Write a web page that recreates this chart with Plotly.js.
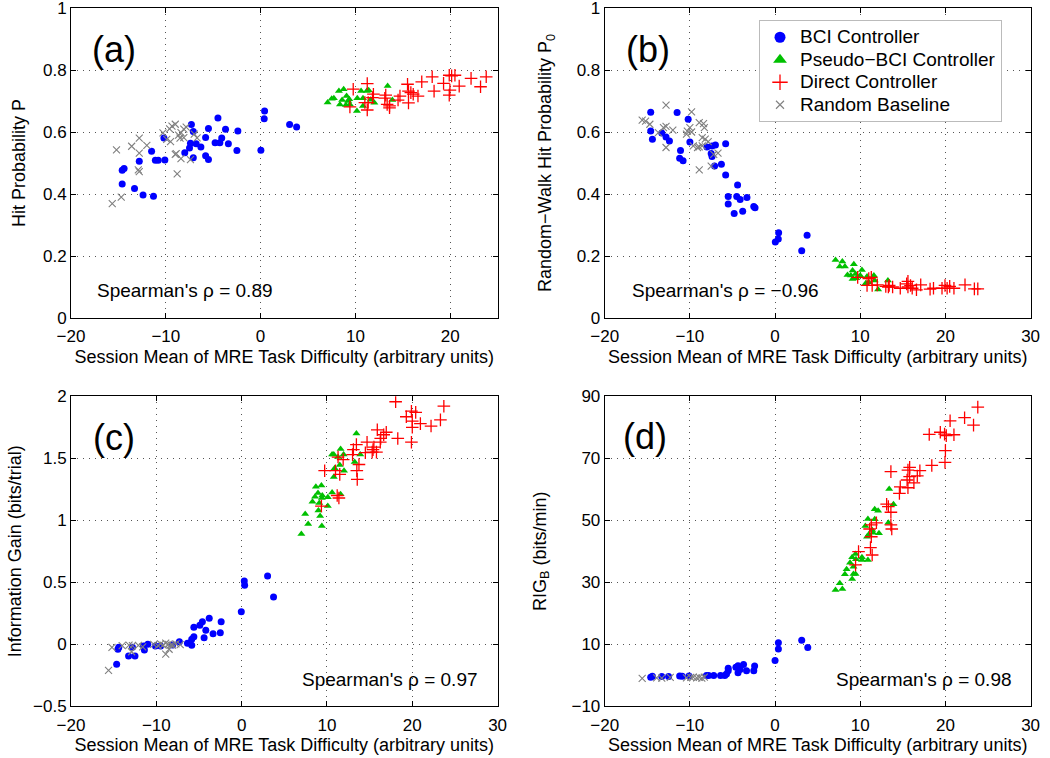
<!DOCTYPE html>
<html><head><meta charset="utf-8">
<script src="https://cdn.plot.ly/plotly-3.0.1.min.js"></script>
<style>html,body{margin:0;padding:0;background:#fff}#chart{width:1050px;height:758px}</style>
</head><body><div id="chart"></div>
<script>
// ---------- Panel (a): Hit Probability P ----------
var bciA_x = [0.42,0.38,0.03,3.06,3.8,-4.5,-7.3,-7.1,-5.5,-3.7,-2.4,-4.1,-4.8,-4.3,-3.4,-2.5,-5.8,-6.8,-7.4,-6.3,-7.5,-8.0,-7.1,-5.8,-5.5,-10.2,-11.5,-11.1,-10.8,-10.1,-12.8,-14.4,-14.6,-14.6,-13.3,-12.4,-11.3];
var bciA_y = [0.668,0.643,0.541,0.624,0.616,0.645,0.624,0.602,0.611,0.609,0.603,0.581,0.565,0.565,0.562,0.54,0.582,0.562,0.564,0.552,0.548,0.533,0.517,0.523,0.511,0.581,0.538,0.509,0.509,0.51,0.506,0.482,0.477,0.432,0.418,0.397,0.393];
var pbciA_x = [7.07,7.5,7.73,8.26,8.76,8.37,8.6,9.07,9.24,9.0,9.42,9.35,10.16,10.2,10.6,10.8,11.2,11.4,11.6,12.0,10.8,13.4,13.9];
var pbciA_y = [0.695,0.707,0.709,0.732,0.738,0.689,0.703,0.716,0.7,0.687,0.689,0.706,0.668,0.709,0.732,0.709,0.732,0.735,0.704,0.694,0.684,0.748,0.703];
var dirA_x = [9.77,9.42,11.25,11.25,11.0,11.35,11.9,11.8,13.2,13.1,13.6,13.6,13.35,14.5,14.7,15.5,15.6,15.85,16.1,15.6,16.6,17.0,18.1,18.3,19.3,19.9,20.15,20.5,19.97,19.9,20.95,22.2,23.2,23.8];
var dirA_y = [0.738,0.681,0.756,0.671,0.695,0.695,0.722,0.711,0.719,0.709,0.684,0.678,0.689,0.703,0.716,0.754,0.732,0.727,0.722,0.694,0.716,0.762,0.778,0.732,0.757,0.783,0.781,0.783,0.735,0.719,0.748,0.773,0.746,0.778];
var randA_x = [-15.65,-14.7,-15.2,-13.6,-12.8,-12.8,-12.0,-12.9,-12.8,-8.8,-10.3,-9.9,-9.5,-9.35,-9.0,-8.4,-8.1,-8.5,-8.1,-7.85,-7.0,-6.7,-9.0,-8.9,-8.4,-7.4,-9.6,-8.65];
var randA_y = [0.369,0.39,0.542,0.554,0.58,0.532,0.557,0.478,0.472,0.465,0.597,0.576,0.569,0.619,0.625,0.598,0.609,0.58,0.582,0.616,0.593,0.581,0.528,0.53,0.514,0.511,0.61,0.59];

// ---------- Panel (b): Random-Walk Hit Probability P0 ----------
var bciB_x = [-14.6,-14.6,-14.4,-11.5,-13.3,-12.8,-12.4,-11.1,-11.2,-10.8,-10.2,-10.0,-8.0,-7.4,-7.0,-7.5,-7.4,-7.1,-6.3,-5.8,-5.8,-4.4,-5.5,-5.5,-4.5,-4.1,-3.3,-4.8,-3.8,-2.5,-2.35,0.42,0.38,0.03,3.13,3.76];
var bciB_y = [0.664,0.603,0.577,0.663,0.597,0.584,0.571,0.54,0.515,0.507,0.641,0.568,0.552,0.555,0.558,0.531,0.521,0.49,0.496,0.562,0.461,0.429,0.392,0.368,0.392,0.382,0.389,0.337,0.344,0.36,0.356,0.275,0.255,0.245,0.217,0.267];
var pbciB_x = [7.1,7.9,7.6,8.2,8.5,9.25,9.1,8.9,9.45,9.1,10.2,10.0,10.8,10.65,11.0,11.6,11.7,12.1,13.25,9.55];
var pbciB_y = [0.187,0.182,0.166,0.166,0.139,0.173,0.153,0.137,0.142,0.126,0.155,0.137,0.134,0.112,0.115,0.137,0.121,0.092,0.121,0.128];
var dirB_x = [9.7,11.0,11.3,10.8,11.4,12.0,13.0,13.4,13.8,14.7,15.6,15.6,15.9,16.1,16.6,17.1,18.2,18.6,19.6,19.95,20.2,20.5,21.0,22.3,23.4,23.8,15.45,13.3];
var dirB_y = [0.131,0.127,0.131,0.105,0.105,0.107,0.102,0.105,0.1,0.096,0.118,0.1,0.105,0.096,0.091,0.107,0.093,0.096,0.096,0.105,0.096,0.102,0.096,0.107,0.094,0.094,0.11,0.1];
var randB_x = [-15.6,-15.2,-14.7,-12.8,-13.7,-13.1,-12.8,-12.0,-12.8,-10.4,-10.0,-9.8,-9.8,-9.6,-9.1,-8.9,-8.9,-8.9,-8.4,-8.3,-8.55,-8.2,-7.85,-8.55,-7.5,-7.2,-6.7,-10.3];
var randB_y = [0.638,0.635,0.625,0.687,0.598,0.614,0.618,0.606,0.55,0.593,0.614,0.6,0.665,0.555,0.55,0.552,0.478,0.63,0.627,0.614,0.582,0.577,0.569,0.555,0.49,0.528,0.532,0.603];

// ---------- Panel (c): Information Gain (bits/trial) ----------
var bciC_x = [0.31,0.35,-0.04,3.04,3.74,-3.8,-4.6,-4.9,-5.6,-4.2,-2.4,-2.5,-3.35,-4.4,-5.6,-5.85,-6.35,-5.85,-7.3,-10.1,-11.0,-11.4,-11.5,-12.8,-14.4,-14.5,-13.25,-12.5,-14.65,-8.1,-9.5];
var bciC_y = [0.51,0.476,0.263,0.551,0.381,0.21,0.182,0.153,0.137,0.113,0.182,0.094,0.085,0.053,0.061,0.04,0.008,-0.008,0.021,-0.014,0.0,-0.046,-0.014,-0.024,-0.024,-0.04,-0.094,-0.094,-0.16,-0.006,-0.014];
var pbciC_x = [13.45,11.6,10.6,10.8,11.95,11.3,11.5,13.25,13.9,10.9,12.0,10.8,8.7,9.35,8.95,9.45,10.6,11.6,8.6,10.1,9.4,8.3,9.1,10.1,9.0,7.45,9.2,7.8,9.4,7.0];
var pbciC_y = [1.70,1.575,1.53,1.53,1.53,1.51,1.445,1.47,1.53,1.42,1.40,1.35,1.27,1.28,1.22,1.20,1.225,1.21,1.19,1.185,1.18,1.15,1.14,1.115,1.08,1.05,1.035,0.97,0.955,0.89];
var dirC_x = [18.05,23.7,19.9,20.4,19.3,20.0,20.95,20.0,22.2,23.3,15.9,16.95,16.65,16.3,16.25,18.3,19.9,14.7,13.45,13.1,15.5,15.4,15.8,15.3,14.5,13.0,11.3,11.9,13.75,9.73,11.0,11.5,13.5,13.55,11.2,11.4,9.35];
var dirC_y = [1.956,1.92,1.88,1.87,1.835,1.80,1.78,1.75,1.76,1.81,1.73,1.71,1.69,1.66,1.63,1.66,1.63,1.63,1.61,1.57,1.59,1.57,1.55,1.55,1.545,1.53,1.51,1.49,1.45,1.40,1.40,1.37,1.40,1.33,1.20,1.18,1.115];
var randC_x = [-15.6,-15.2,-14.0,-13.2,-12.8,-12.1,-12.9,-9.5,-9.2,-8.9,-8.6,-8.3,-8.9,-8.5,-8.1,-7.7,-7.2,-9.8,-10.3,-11.6];
var randC_y = [-0.21,-0.024,-0.01,-0.006,-0.01,-0.008,-0.06,0.004,-0.006,0.01,0.0,-0.004,-0.08,-0.04,-0.006,0.004,-0.002,-0.01,0.0,-0.02];

// ---------- Panel (d): RIG_B (bits/min) ----------
var bciD_x = [3.13,3.84,0.39,0.39,0.0,-2.4,-2.5,-3.35,-3.7,-4.35,-4.6,-4.35,-4.1,-5.5,-5.5,-5.7,-5.9,-6.4,-7.2,-7.8,-8.05,-10.1,-10.9,-11.2,-12.5,-13.3,-14.4,-14.6];
var bciD_y = [11.3,9.0,10.5,8.5,4.8,3.0,1.5,1.5,3.5,3.1,2.6,0.8,1.9,2.3,1.5,0.4,-0.1,-0.1,-0.1,-0.1,-0.1,-0.2,-0.3,-0.2,-0.4,-0.4,-0.3,-0.6];
var pbciD_x = [13.4,13.9,11.7,12.1,10.9,11.7,13.3,10.6,11.4,11.5,12.2,10.8,11.0,9.45,9.05,8.8,9.5,10.2,10.2,10.9,9.2,8.4,8.2,9.2,9.45,9.05,7.6,7.1,7.9];
var pbciD_y = [60.1,55.2,53.6,53.1,50.4,50.3,49.2,48.2,46.9,46.0,45.8,44.7,45.4,39.1,38.1,36.3,37.4,38.1,37.2,37.2,35.0,34.2,32.6,32.7,32.7,31.1,29.7,27.5,27.8];
var dirD_x = [23.8,22.25,23.3,20.55,18.1,19.4,19.9,20.1,21.0,20.0,19.95,18.4,15.8,15.6,17.0,13.6,16.7,15.8,15.5,16.3,14.7,15.6,14.6,13.1,13.3,13.6,11.9,11.3,13.6,13.7,11.1,11.3,11.2,11.4,9.8,9.45];
var dirD_y = [86.5,83.1,80.7,82.1,77.7,78.4,77.8,77.3,77.6,72.5,68.7,67.7,67.1,66.2,66.0,65.7,64.3,64.1,63.0,62.1,60.8,60.5,58.7,55.2,54.4,52.6,49.2,48.5,48.5,47.2,47.2,44.7,41.2,38.8,39.9,35.6];
var randD_x = [-15.6,-13.9,-13.3,-12.3,-9.6,-9.2,-8.9,-8.6,-8.3,-9.9,-10.4];
var randD_y = [-1.0,-0.8,-0.9,-0.7,-0.6,-0.8,-0.7,-0.9,-0.6,-0.7,-0.8];

// ---------- Tick labels and texts ----------
var xTicksA = [-20,-10,0,10,20];
var xTicksBCD = [-20,-10,0,10,20,30];
var yTicksAB = [0,0.2,0.4,0.6,0.8,1];
var yTicksC = [-0.5,0,0.5,1,1.5,2];
var yTicksD = [-10,10,30,50,70,90];
var seriesNames = ['BCI Controller', 'Pseudo\u2212BCI Controller', 'Direct Controller', 'Random Baseline'];
var panelLetters = ['(a)', '(b)', '(c)', '(d)'];
var rhoTexts = ["Spearman's \u03c1 = 0.89", "Spearman's \u03c1 = \u22120.96", "Spearman's \u03c1 = 0.97", "Spearman's \u03c1 = 0.98"];
var xTitle = 'Session Mean of MRE Task Difficulty (arbitrary units)';
var yTitles = ['Hit Probability P', 'Random\u2212Walk Hit Probability P<sub>0</sub>', 'Information Gain (bits/trial)', 'RIG<sub>B</sub> (bits/min)'];

var FONT = 'Liberation Sans, Arial, Helvetica, sans-serif';
var styles = [
  {symbol:'circle', size:7, color:'#0000ff', line:{width:0}},
  {symbol:'triangle-up', size:7, color:'#00c000', line:{width:0}},
  {symbol:'cross-thin-open', size:9, color:'#ff0000', line:{color:'#ff0000', width:1.3}},
  {symbol:'x-thin-open', size:7, color:'#808080', line:{color:'#808080', width:1.1}}
];
var legendStyles = [
  {symbol:'circle', size:11, color:'#0000ff', line:{width:0}},
  {symbol:'triangle-up', size:12, color:'#00c000', line:{width:0}},
  {symbol:'cross-thin-open', size:11, color:'#ff0000', line:{color:'#ff0000', width:1.3}},
  {symbol:'x-thin-open', size:8, color:'#808080', line:{color:'#808080', width:1.1}}
];

var panels = [
  {ax:'', data:[[bciA_x,bciA_y],[pbciA_x,pbciA_y],[dirA_x,dirA_y],[randA_x,randA_y]]},
  {ax:'2', data:[[bciB_x,bciB_y],[pbciB_x,pbciB_y],[dirB_x,dirB_y],[randB_x,randB_y]]},
  {ax:'3', data:[[bciC_x,bciC_y],[pbciC_x,pbciC_y],[dirC_x,dirC_y],[randC_x,randC_y]]},
  {ax:'4', data:[[bciD_x,bciD_y],[pbciD_x,pbciD_y],[dirD_x,dirD_y],[randD_x,randD_y]]}
];

var traces = [];
panels.forEach(function(p){
  p.data.forEach(function(d, i){
    traces.push({type:'scatter', mode:'markers', x:d[0], y:d[1], name:seriesNames[i],
      xaxis:'x'+p.ax, yaxis:'y'+p.ax, marker:styles[i], showlegend:false, hoverinfo:'x+y'});
  });
});
// legend entries (legend only, no data)
seriesNames.forEach(function(n, i){
  traces.push({type:'scatter', mode:'markers', x:[null], y:[null],
    name:'<span style="font-size:19px">' + n + '</span>', xaxis:'x2', yaxis:'y2',
    marker:legendStyles[i], showlegend:true});
});

function axis(extra){
  var a = {showline:true, linecolor:'#000', linewidth:1, mirror:'ticks', ticks:'inside', ticklen:5,
    tickcolor:'#000', showgrid:true, gridcolor:'#555', griddash:'1px,5px', gridwidth:1,
    zeroline:false, tickfont:{family:FONT, size:17, color:'#000'}, automargin:false, fixedrange:true,
    tickmode:'array', ticklabeloverflow:'allow'};
  for (var k in extra) a[k] = extra[k];
  return a;
}
var xdomL = [71/1050, 497.6/1050], xdomR = [604.7/1050, 1030.6/1050];
var ydomT = [1-318/758, 1-8/758], ydomB = [1-706.3/758, 1-396.3/758];
function xt(){ return {text:xTitle, font:{family:FONT, size:18, color:'#000'}, standoff:4}; }
function yt(i, s){ return {text:yTitles[i], font:{family:FONT, size:18, color:'#000'}, standoff:s}; }

var layout = {
  width:1050, height:758, margin:{l:0,r:0,t:0,b:0}, paper_bgcolor:'#fff', plot_bgcolor:'#fff',
  font:{family:FONT, color:'#000'},
  xaxis: axis({domain:xdomL, anchor:'y', range:[-20,25], tickvals:xTicksA, ticklabelstandoff:3, title:xt()}),
  yaxis: axis({domain:ydomT, anchor:'x', range:[0,1], tickvals:yTicksAB, title:yt(0, 12)}),
  xaxis2: axis({domain:xdomR, anchor:'y2', range:[-20,30], tickvals:xTicksBCD, ticklabelstandoff:3, title:xt()}),
  yaxis2: axis({domain:ydomT, anchor:'x2', range:[0,1], tickvals:yTicksAB, title:yt(1, 20)}),
  xaxis3: axis({domain:xdomL, anchor:'y3', range:[-20,30], tickvals:xTicksBCD, ticklabelstandoff:3, title:xt()}),
  yaxis3: axis({domain:ydomB, anchor:'x3', range:[-0.5,2], tickvals:yTicksC, title:yt(2, 6)}),
  xaxis4: axis({domain:xdomR, anchor:'y4', range:[-20,30], tickvals:xTicksBCD, ticklabelstandoff:3, title:xt()}),
  yaxis4: axis({domain:ydomB, anchor:'x4', range:[-10,90], tickvals:yTicksD, title:yt(3, 20)}),
  showlegend:true,
  legend:{x:759/1050, y:1-20/758, xanchor:'left', yanchor:'top', bgcolor:'#fff', bordercolor:'#bbb', borderwidth:1,
    font:{family:FONT, size:15, color:'#000'}, itemwidth:30, itemclick:false, itemdoubleclick:false},
  annotations:[]
};
var letterPos = [[-15.5,0.865,'x','y'],[-14.9,0.865,'x2','y2'],[-15.0,1.67,'x3','y3'],[-15.25,77,'x4','y4']];
letterPos.forEach(function(p,i){
  layout.annotations.push({xref:p[2], yref:p[3], x:p[0], y:p[1], text:panelLetters[i], showarrow:false,
    xanchor:'center', yanchor:'middle', font:{family:FONT, size:36, color:'#000'}});
});
var rhoPos = [[-17.5,0.09,'x','y'],[-17.0,0.09,'x2','y2'],[6.8,-0.28,'x3','y3'],[6.9,-1.2,'x4','y4']];
rhoPos.forEach(function(p,i){
  layout.annotations.push({xref:p[2], yref:p[3], x:p[0], y:p[1], text:rhoTexts[i], showarrow:false,
    xanchor:'left', yanchor:'middle', font:{family:FONT, size:19, color:'#000'}});
});

Plotly.newPlot('chart', traces, layout, {displayModeBar:false, staticPlot:true});
</script></body></html>
